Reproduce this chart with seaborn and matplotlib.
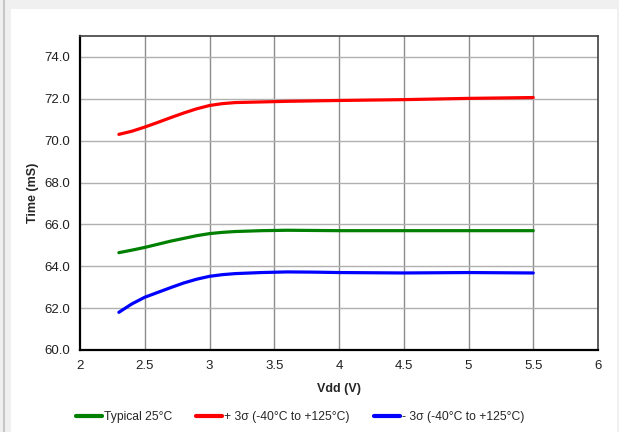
import pandas as pd
import seaborn as sns
import matplotlib.pyplot as plt
from matplotlib.patches import Rectangle

vdd = [2.3, 2.4, 2.5, 2.6, 2.7, 2.8, 2.9, 3.0, 3.1, 3.2, 3.4, 3.6, 3.8, 4.0, 4.5, 5.0, 5.5]
typical = [64.65, 64.77, 64.90, 65.05, 65.20, 65.33, 65.46, 65.56, 65.62, 65.66,
           65.70, 65.72, 65.71, 65.70, 65.70, 65.70, 65.70]
plus_3s = [70.30, 70.45, 70.65, 70.87, 71.10, 71.32, 71.52, 71.68, 71.77, 71.82,
           71.85, 71.88, 71.90, 71.92, 71.96, 72.02, 72.06]
minus_3s = [61.80, 62.20, 62.52, 62.75, 62.98, 63.20, 63.38, 63.52, 63.60, 63.65,
            63.70, 63.73, 63.72, 63.70, 63.68, 63.70, 63.68]

series_names = ["Typical 25°C", "+ 3σ (-40°C to +125°C)", "- 3σ (-40°C to +125°C)"]
series_colors = ["#008000", "#ff0000", "#0000ff"]

x_ticks = [2, 2.5, 3, 3.5, 4, 4.5, 5, 5.5, 6]
x_labels = ["2", "2.5", "3", "3.5", "4", "4.5", "5", "5.5", "6"]
y_ticks = [60, 62, 64, 66, 68, 70, 72, 74]


def build_frame():
    parts = []
    for name, vals in zip(series_names, [typical, plus_3s, minus_3s]):
        parts.append(pd.DataFrame({"Vdd": vdd, "Time": vals, "Series": name}))
    return pd.concat(parts, ignore_index=True)


sns.set_style("white")
plt.rcParams["font.family"] = ["Liberation Sans", "DejaVu Sans"]

df = build_frame()

fig = plt.figure(figsize=(6.19, 4.32), dpi=100)
fig.patch.set_facecolor("#f0f0f0")
fig.patches.append(Rectangle((11 / 619, 0), 606 / 619, 423 / 432,
                             transform=fig.transFigure, facecolor="white",
                             edgecolor="none", zorder=-10))
fig.lines.append(plt.Line2D([3.5 / 619, 3.5 / 619], [0, 1], transform=fig.transFigure,
                            color="#c8c8c8", lw=1.5, zorder=-10))

ax = fig.add_axes([80 / 619, (432 - 350) / 432, 518 / 619, 314 / 432])
sns.lineplot(data=df, x="Vdd", y="Time", hue="Series", palette=series_colors,
             hue_order=series_names, linewidth=2.3, ax=ax, legend=False)

ax.set_xlim(2, 6)
ax.set_ylim(60, 75)
ax.set_xticks(x_ticks)
ax.set_xticklabels(x_labels)
ax.set_yticks(y_ticks)
ax.set_yticklabels([f"{v:.1f}" for v in y_ticks])
ax.tick_params(length=0, labelsize=9.5, colors="#202020", pad=7)

for xv in x_ticks[1:-1]:
    ax.axvline(xv, color="#8c8c8c", lw=1, zorder=0)
for yv in y_ticks[1:]:
    ax.axhline(yv, color="#b0b0b0", lw=1, zorder=0)

for side in ["left", "bottom"]:
    ax.spines[side].set_color("black")
    ax.spines[side].set_linewidth(1.6)
for side in ["top", "right"]:
    ax.spines[side].set_color("#404040")
    ax.spines[side].set_linewidth(1.2)

ax.set_xlabel("Vdd (V)", fontsize=9, fontweight="bold", labelpad=8)
ax.set_ylabel("Time (mS)", fontsize=9, fontweight="bold", labelpad=4)

handles = [plt.Line2D([], [], color=c, lw=3) for c in series_colors]
fig.legend(handles, series_names, loc="center", bbox_to_anchor=(300 / 619, (432 - 417) / 432),
           ncol=3, frameon=False, fontsize=8.7, handlelength=2.15, handletextpad=0.15,
           columnspacing=2.0)

plt.savefig("out.png", dpi=100, facecolor=fig.get_facecolor())
